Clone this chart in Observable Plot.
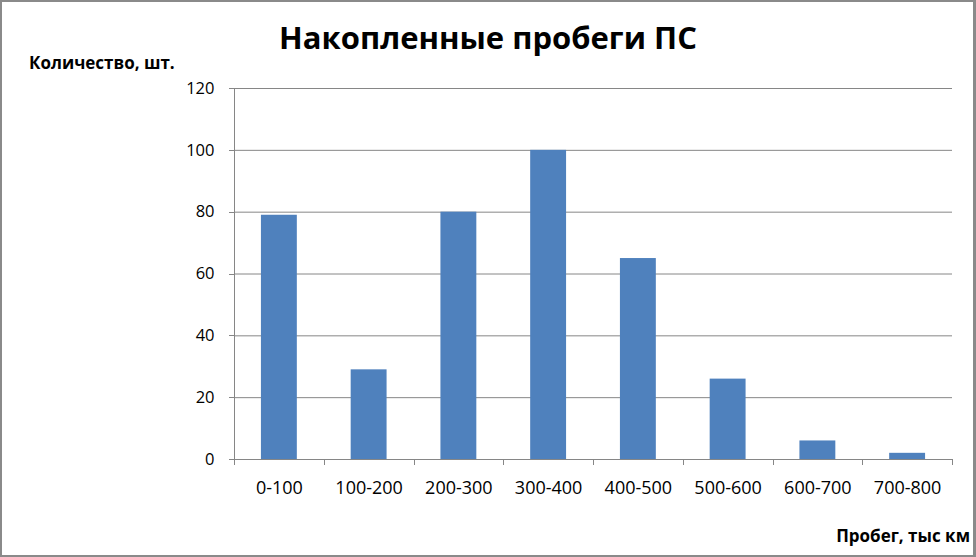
<!DOCTYPE html>
<html>
<head>
<meta charset="utf-8">
<script src="https://cdn.jsdelivr.net/npm/d3@7"></script>
<script src="https://cdn.jsdelivr.net/npm/@observablehq/plot@0.6"></script>
<style>
  html, body { margin: 0; padding: 0; background: #fff; }
  #wrap { position: relative; width: 976px; height: 557px; font-family: "Open Sans", "Noto Sans", sans-serif; overflow: hidden; }
  #border { position: absolute; left: 0; top: 0; width: 976px; height: 557px; box-sizing: border-box; border: 2px solid #8a8a8a; border-right-width: 3px; pointer-events: none; }
  #chart { position: absolute; left: 0; top: 0; }
  #chart svg { max-width: none !important; }
  .lbl { position: absolute; font-weight: bold; color: #000; white-space: nowrap; }
  #title { left: 0; width: 976px; text-align: center; top: 16px; font-size: 31px; }
  #ylab { left: 29px; top: 51px; font-size: 17px; }
  #xlab { right: 6px; top: 524px; font-size: 17px; }
</style>
</head>
<body>
<div id="wrap">
  <div id="chart"></div>
  <div id="border"></div>
  <div class="lbl" id="title">Накопленные пробеги ПС</div>
  <div class="lbl" id="ylab">Количество, шт.</div>
  <div class="lbl" id="xlab">Пробег, тыс км</div>
</div>
<script>
const categories = ["0-100", "100-200", "200-300", "300-400", "400-500", "500-600", "600-700", "700-800"];
const counts = [79, 29, 80, 100, 65, 26, 6, 2];
const yTicks = [0, 20, 40, 60, 80, 100, 120];

const data = categories.map((c, i) => ({category: c, count: counts[i]}));

const W = 976, H = 557;
const mL = 234, mR = 24, mT = 88, mB = 98;
const axisColor = "#868686";

function axisLines(index, scales, values, dims) {
  const g = d3.create("svg:g").attr("stroke", axisColor).attr("fill", "none");
  const x0 = dims.marginLeft, x1 = dims.width - dims.marginRight;
  const yb = dims.height - dims.marginBottom, yt = dims.marginTop;
  g.append("line").attr("x1", x0 + 0.5).attr("x2", x0 + 0.5).attr("y1", yt).attr("y2", yb);
  for (const t of yTicks) {
    const y = Math.round(scales.y(t)) + 0.5;
    g.append("line").attr("x1", x0 - 5).attr("x2", x0).attr("y1", y).attr("y2", y);
  }
  const cats = scales.x.domain();
  const bw = (x1 - x0) / cats.length;
  for (let i = 0; i <= cats.length; i++) {
    const x = Math.round(x0 + i * bw) + 0.5;
    g.append("line").attr("x1", x).attr("x2", x).attr("y1", yb).attr("y2", yb + 6);
  }
  return g.node();
}

const chart = Plot.plot({
  width: W,
  height: H,
  marginLeft: mL,
  marginRight: mR,
  marginTop: mT,
  marginBottom: mB,
  style: {fontFamily: "'Open Sans', 'Noto Sans', sans-serif", fontSize: "16px", color: "#000", background: "transparent", maxWidth: "none"},
  x: {domain: categories, paddingInner: 0.6, paddingOuter: 0.3, round: false, label: null},
  y: {domain: [0, 120], label: null},
  marks: [
    Plot.gridY(yTicks, {stroke: axisColor, strokeOpacity: 1, strokeWidth: 1}),
    Plot.barY(data, {x: "category", y: "count", fill: "#4f81bd"}),
    Plot.ruleY([0], {stroke: axisColor, strokeOpacity: 1}),
    axisLines,
    Plot.axisY(yTicks, {tickSize: 0, tickPadding: 20, fontSize: 16.5, fill: "#000"}),
    Plot.axisX({tickSize: 0, tickPadding: 22, fontSize: 18, fill: "#000"})
  ]
});
document.getElementById("chart").appendChild(chart);
</script>
</body>
</html>
